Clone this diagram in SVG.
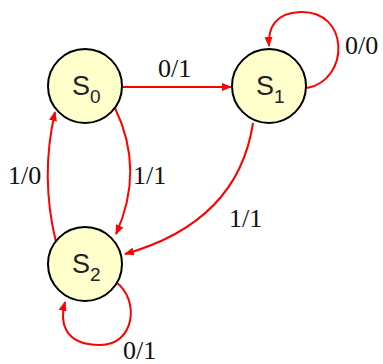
<svg xmlns="http://www.w3.org/2000/svg" width="383" height="364" viewBox="0 0 383 364">
<style>
.node{fill:#FFFFCC;stroke:#000;stroke-width:2}
.edge{fill:none;stroke:#FF0000;stroke-width:2}
.lbl{font-family:"Liberation Serif",serif;font-size:26px;fill:#111}
.st{font-family:"Liberation Sans",sans-serif;font-size:27px;fill:#222}
.sub{font-size:19px}
</style>
<defs>
<marker id="ah" markerWidth="10" markerHeight="8" refX="9" refY="4" orient="auto" markerUnits="userSpaceOnUse">
<path d="M0,0 L10,4 L0,8 Z" fill="#FF0000"/>
</marker>
</defs>
<rect width="383" height="364" fill="#fff"/>
<g id="connectors">
<path class="edge" d="M122,87 L231,87" marker-end="url(#ah)"/>
<path class="edge" d="M307,88 C350,80 350,10 300,12 C275,13 268,28 269,46" marker-end="url(#ah)"/>
<path class="edge" d="M253,123 Q238,222 125,254" marker-end="url(#ah)"/>
<path class="edge" d="M115,108 Q145,170 116,234" marker-end="url(#ah)"/>
<path class="edge" d="M56,242 Q40,177 55,112" marker-end="url(#ah)"/>
<path class="edge" d="M116,282 C140,300 135,345 100,345 C62,345 60,320 65,302" marker-end="url(#ah)"/>
</g>
<g id="S0">
<circle class="node" cx="85" cy="86" r="37"/>
<text class="st" x="72" y="95">S<tspan class="sub" dy="8">0</tspan></text>
</g>
<g id="S1">
<circle class="node" cx="269" cy="86" r="37"/>
<text class="st" x="256" y="95">S<tspan class="sub" dy="8">1</tspan></text>
</g>
<g id="S2">
<circle class="node" cx="85" cy="264" r="37"/>
<text class="st" x="72" y="273">S<tspan class="sub" dy="8">2</tspan></text>
</g>
<g id="labels">
<text class="lbl" x="158" y="77">0/1</text>
<text class="lbl" x="345" y="54">0/0</text>
<text class="lbl" x="8" y="184">1/0</text>
<text class="lbl" x="133" y="184">1/1</text>
<text class="lbl" x="229" y="227">1/1</text>
<text class="lbl" x="123" y="359">0/1</text>
</g>
</svg>
